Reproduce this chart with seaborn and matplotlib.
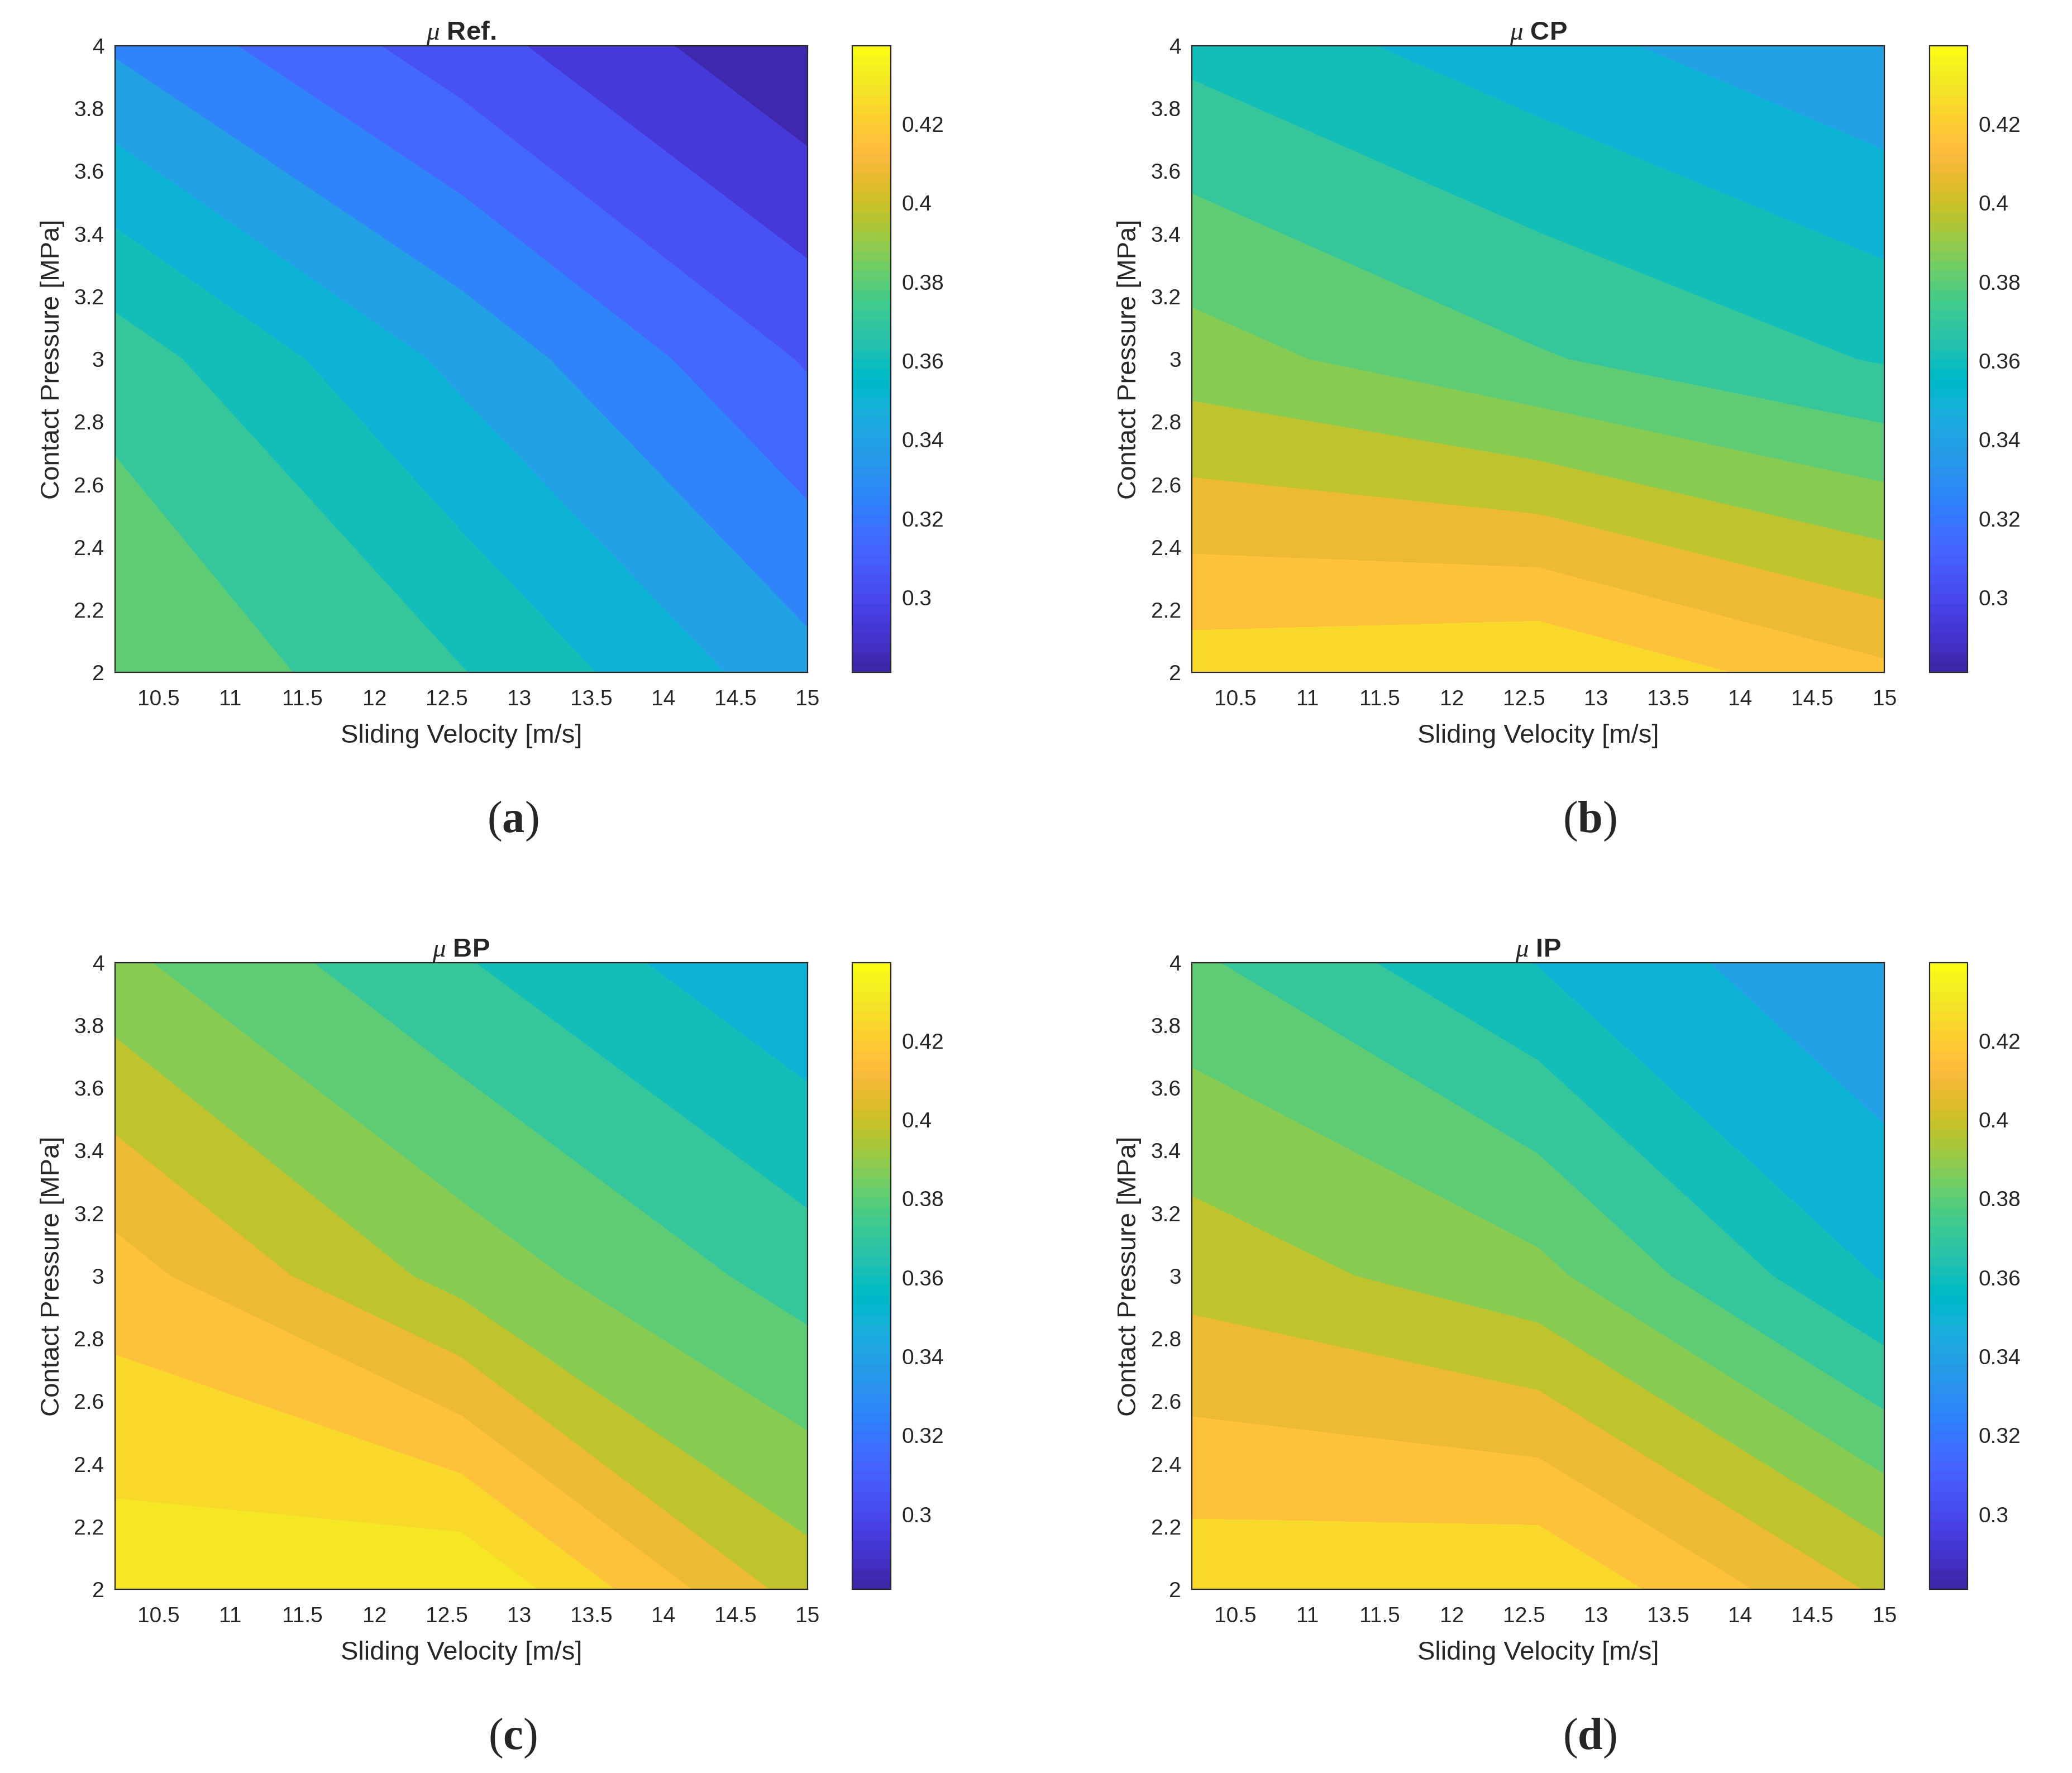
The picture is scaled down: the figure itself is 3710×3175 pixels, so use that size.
import seaborn as sns
import matplotlib.pyplot as plt
import matplotlib.colors as mcolors
from matplotlib.ticker import FormatStrFormatter
import numpy as np


# Stil general

sns.set_theme(style="white")
plt.rcParams['font.family'] = ['Liberation Sans', 'DejaVu Sans']
plt.rcParams['mathtext.fontset'] = 'custom'
plt.rcParams['mathtext.it'] = 'Liberation Serif:italic'
plt.rcParams['mathtext.rm'] = 'Liberation Serif'
plt.rcParams['mathtext.bf'] = 'Liberation Serif:bold'


# Date: grila de incercari (viteza x presiune) si coeficientul de frecare

viteza = [10.2, 12.6, 15.0]     # Sliding Velocity [m/s]
presiune = [2.0, 3.0, 4.0]      # Contact Pressure [MPa]

# randuri = presiune 2, 3, 4 MPa ; coloane = viteza
mu_ref = [[0.3800, 0.3605, 0.3335],
          [0.3655, 0.3372, 0.3089],
          [0.3285, 0.3044, 0.2810]]

mu_cp = [[0.4255, 0.4296, 0.4123],
         [0.3845, 0.3710, 0.3590],
         [0.3570, 0.3438, 0.3305]]

mu_bp = [[0.4363, 0.4398, 0.3950],
         [0.4145, 0.3860, 0.3653],
         [0.3823, 0.3608, 0.3405]]

mu_ip = [[0.4269, 0.4295, 0.3979],
         [0.3962, 0.3830, 0.3490],
         [0.3718, 0.3495, 0.3303]]

titluri = [r"$\mu$ Ref.", r"$\mu$ CP", r"$\mu$ BP", r"$\mu$ IP"]
litere = ["a", "b", "c", "d"]
nivele = np.round(np.arange(28, 45) / 100, 2)
x_ticks = [10.5, 11, 11.5, 12, 12.5, 13, 13.5, 14, 14.5, 15]
y_ticks = [2, 2.2, 2.4, 2.6, 2.8, 3, 3.2, 3.4, 3.6, 3.8, 4]
cb_ticks = [0.30, 0.32, 0.34, 0.36, 0.38, 0.40, 0.42]


# Harta de culori parula (MATLAB)

parula = [
    [0.2422, 0.1504, 0.6603], [0.2504, 0.1650, 0.7076], [0.2578, 0.1818, 0.7511],
    [0.2647, 0.1978, 0.7952], [0.2706, 0.2147, 0.8364], [0.2751, 0.2342, 0.8710],
    [0.2783, 0.2559, 0.8991], [0.2803, 0.2782, 0.9221], [0.2813, 0.3006, 0.9414],
    [0.2810, 0.3228, 0.9579], [0.2795, 0.3447, 0.9717], [0.2760, 0.3667, 0.9829],
    [0.2699, 0.3892, 0.9906], [0.2602, 0.4123, 0.9952], [0.2440, 0.4358, 0.9988],
    [0.2206, 0.4603, 0.9973], [0.1963, 0.4847, 0.9892], [0.1834, 0.5074, 0.9798],
    [0.1786, 0.5289, 0.9682], [0.1764, 0.5499, 0.9520], [0.1687, 0.5703, 0.9359],
    [0.1540, 0.5902, 0.9218], [0.1460, 0.6091, 0.9079], [0.1380, 0.6276, 0.8973],
    [0.1248, 0.6459, 0.8883], [0.1113, 0.6635, 0.8763], [0.0952, 0.6798, 0.8598],
    [0.0689, 0.6948, 0.8394], [0.0297, 0.7082, 0.8163], [0.0036, 0.7203, 0.7917],
    [0.0067, 0.7312, 0.7660], [0.0433, 0.7411, 0.7394], [0.0964, 0.7500, 0.7120],
    [0.1408, 0.7584, 0.6842], [0.1717, 0.7670, 0.6554], [0.1938, 0.7758, 0.6251],
    [0.2161, 0.7843, 0.5923], [0.2470, 0.7918, 0.5567], [0.2906, 0.7973, 0.5188],
    [0.3406, 0.8008, 0.4789], [0.3909, 0.8029, 0.4354], [0.4456, 0.8024, 0.3909],
    [0.5044, 0.7993, 0.3480], [0.5616, 0.7942, 0.3045], [0.6174, 0.7876, 0.2612],
    [0.6720, 0.7793, 0.2227], [0.7242, 0.7698, 0.1910], [0.7738, 0.7598, 0.1646],
    [0.8203, 0.7498, 0.1535], [0.8634, 0.7406, 0.1596], [0.9035, 0.7330, 0.1774],
    [0.9393, 0.7288, 0.2100], [0.9728, 0.7298, 0.2394], [0.9956, 0.7434, 0.2371],
    [0.9970, 0.7659, 0.2199], [0.9952, 0.7893, 0.2028], [0.9892, 0.8136, 0.1885],
    [0.9786, 0.8386, 0.1766], [0.9676, 0.8639, 0.1643], [0.9610, 0.8890, 0.1537],
    [0.9597, 0.9135, 0.1423], [0.9628, 0.9373, 0.1265], [0.9691, 0.9606, 0.1064],
    [0.9769, 0.9839, 0.0805]]
cmap = mcolors.ListedColormap(parula)
parula_cont = sns.blend_palette(parula, as_cmap=True)

# pozitia in paleta (0..63) a culorii fiecarei benzi dintre doua nivele
idx_benzi = [0.5, 4.5, 9, 13, 17.5, 23.5, 27.5, 31.5, 35.5, 39.5,
             42.5, 46.5, 50.5, 53.5, 57.5, 59.5]
culori_benzi = [parula_cont(i / 63) for i in idx_benzi]

toate = np.array([mu_ref, mu_cp, mu_bp, mu_ip])
norm = mcolors.Normalize(vmin=toate.min(), vmax=toate.max())


# Figura cu 4 contururi

fig = plt.figure(figsize=(37.1, 31.75), dpi=100)

pozitii = [(0.0555, 0.6207), (0.5753, 0.6207), (0.0555, 0.1036), (0.5753, 0.1036)]
X, Y = np.meshgrid(viteza, presiune)

for i, mu in enumerate([mu_ref, mu_cp, mu_bp, mu_ip]):
    x0, y0 = pozitii[i]
    ax = fig.add_axes([x0, y0, 0.3342, 0.3535])
    ax.contourf(X, Y, np.array(mu), levels=nivele, colors=culori_benzi)

    ax.set_xlim(viteza[0], viteza[-1])
    ax.set_ylim(presiune[0], presiune[-1])
    ax.set_xticks(x_ticks)
    ax.set_yticks(y_ticks)
    ax.xaxis.set_major_formatter(FormatStrFormatter('%g'))
    ax.yaxis.set_major_formatter(FormatStrFormatter('%g'))
    ax.tick_params(direction='in', top=True, right=True, length=10, width=1.5,
                   color='#262626', labelsize=28, labelcolor='#262626')
    ax.tick_params(axis='x', pad=22)
    ax.tick_params(axis='y', pad=14)
    for s in ax.spines.values():
        s.set_color('#262626')
        s.set_linewidth(1.6)

    ax.set_xlabel("Sliding Velocity [m/s]", fontsize=34, color='#262626', labelpad=18)
    ax.set_ylabel("Contact Pressure [MPa]", fontsize=34, color='#262626', labelpad=12)
    ax.set_title(titluri[i], fontsize=34, fontweight='bold', pad=8)

    cax = fig.add_axes([x0 + 0.3559, y0, 0.0185, 0.3535])
    cb = fig.colorbar(plt.cm.ScalarMappable(norm=norm, cmap=cmap), cax=cax)
    cb.set_ticks(cb_ticks, labels=[f"{t:g}" for t in cb_ticks])
    cb.ax.tick_params(direction='in', length=10, width=1.5, color='#262626',
                      labelsize=28, labelcolor='#262626', pad=14)
    cb.outline.set_edgecolor('#262626')
    cb.outline.set_linewidth(1.6)

    fig.text(x0 + 0.192, y0 - 0.084, "($\\mathbf{" + litere[i] + "}$)",
             fontsize=58, family='Liberation Serif', ha='center', va='center')

fig.savefig("out.png", dpi=100, facecolor='white')
